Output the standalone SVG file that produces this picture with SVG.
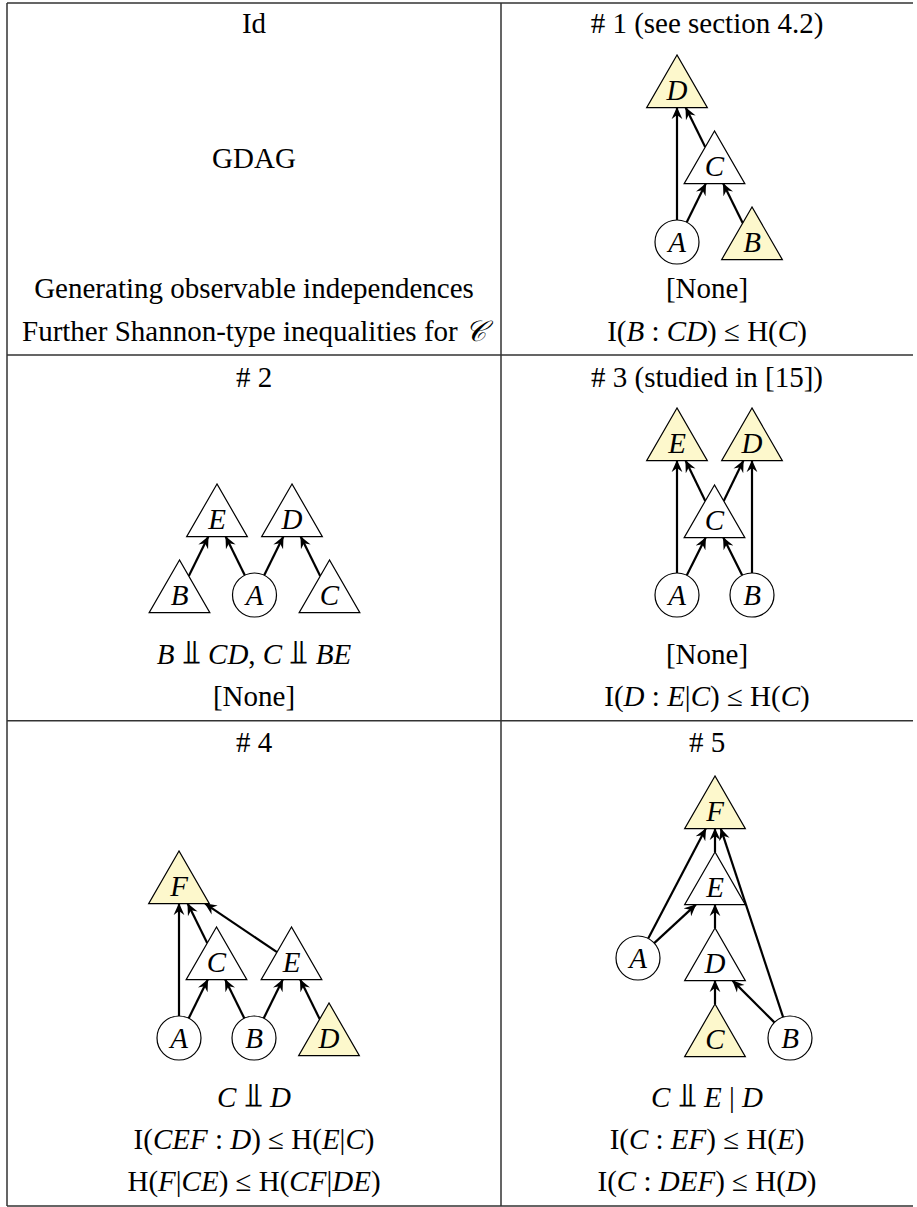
<svg xmlns="http://www.w3.org/2000/svg" width="917" height="1207" viewBox="0 0 917 1207" font-family="'Liberation Serif','Times New Roman',serif">
<defs>
<marker id="ah" viewBox="0 0 12 12" refX="11.5" refY="6" markerWidth="12" markerHeight="12" markerUnits="userSpaceOnUse" orient="auto"><path d="M0,0.6 L12,6 L0,11.4 L4,6 Z" fill="#000"/></marker>
</defs>
<style>
text{font-family:"Liberation Serif","Times New Roman",serif;font-size:29px;fill:#000;text-anchor:middle}
.i{font-style:italic}
.tri{stroke:#000;stroke-width:1.2;fill:#fff}
.y{fill:#fdf8cc}
.cir{stroke:#000;stroke-width:1.2;fill:#fff}
.e{stroke:#000;stroke-width:2.2;fill:none;marker-end:url(#ah)}
.rule{stroke:#333;stroke-width:1.5;fill:none}
.sym{font-family:"DejaVu Serif","DejaVu Sans",serif;font-size:34px;font-style:normal}
</style>
<rect width="917" height="1207" fill="#fff"/>
<g id="table">
<path class="rule" d="M7,3 H913 M7,3 V1206 M501,3 V1206 M7,355 H913 M7,720.7 H913 M7,1206 H913"/>
</g>
<g id="labels">
<text x="254" y="33">Id</text>
<text x="707" y="33"># 1 (see section 4.2)</text>
<text x="254" y="168">GDAG</text>
<text x="254" y="298">Generating observable independences</text>
<text x="707" y="298">[None]</text>
<text x="254" y="341">Further Shannon-type inequalities for <tspan class="i">𝒞</tspan></text>
<text x="707" y="341">I(<tspan class="i">B</tspan> : <tspan class="i">CD</tspan>) ≤ H(<tspan class="i">C</tspan>)</text>
<text x="254" y="387"># 2</text>
<text x="707" y="387"># 3 (studied in [15])</text>
<text x="254" y="664"><tspan class="i">B</tspan> <tspan class="sym">⫫</tspan> <tspan class="i">CD</tspan>, <tspan class="i">C</tspan> <tspan class="sym">⫫</tspan> <tspan class="i">BE</tspan></text>
<text x="254" y="706">[None]</text>
<text x="707" y="664">[None]</text>
<text x="707" y="706">I(<tspan class="i">D</tspan> : <tspan class="i">E</tspan>|<tspan class="i">C</tspan>) ≤ H(<tspan class="i">C</tspan>)</text>
<text x="254" y="752"># 4</text>
<text x="707" y="752"># 5</text>
<text x="254" y="1107"><tspan class="i">C</tspan> <tspan class="sym">⫫</tspan> <tspan class="i">D</tspan></text>
<text x="254" y="1149">I(<tspan class="i">CEF</tspan> : <tspan class="i">D</tspan>) ≤ H(<tspan class="i">E</tspan>|<tspan class="i">C</tspan>)</text>
<text x="254" y="1191">H(<tspan class="i">F</tspan>|<tspan class="i">CE</tspan>) ≤ H(<tspan class="i">CF</tspan>|<tspan class="i">DE</tspan>)</text>
<text x="707" y="1107"><tspan class="i">C</tspan> <tspan class="sym">⫫</tspan> <tspan class="i">E</tspan> | <tspan class="i">D</tspan></text>
<text x="707" y="1149">I(<tspan class="i">C</tspan> : <tspan class="i">EF</tspan>) ≤ H(<tspan class="i">E</tspan>)</text>
<text x="707" y="1191">I(<tspan class="i">C</tspan> : <tspan class="i">DEF</tspan>) ≤ H(<tspan class="i">D</tspan>)</text>
</g>
<g id="connectors">
<path class="e" d="M677,220 L677,107.6"/>
<path class="e" d="M686.7,222.3 L705.8,183.6"/>
<path class="e" d="M742.7,223.1 L723.2,183.6"/>
<path class="e" d="M705.2,147.1 L685.7,107.6"/>
<path class="e" d="M188.8,576.1 L208.3,536.6"/>
<path class="e" d="M244.8,575.3 L225.7,536.6"/>
<path class="e" d="M264.2,575.3 L283.3,536.6"/>
<path class="e" d="M320.2,576.1 L300.7,536.6"/>
<path class="e" d="M677,573 L677,460.6"/>
<path class="e" d="M752,573 L752,460.6"/>
<path class="e" d="M686.8,575.3 L705.7,537.6"/>
<path class="e" d="M742.2,575.3 L723.3,537.6"/>
<path class="e" d="M705.3,501 L685.6,460.6"/>
<path class="e" d="M723.7,501 L743.4,460.6"/>
<path class="e" d="M179,1016 L179,903.6"/>
<path class="e" d="M188.7,1018.3 L207.8,979.6"/>
<path class="e" d="M244.3,1018.3 L225.2,979.6"/>
<path class="e" d="M263.7,1018.3 L282.8,979.6"/>
<path class="e" d="M319.7,1019.1 L300.2,979.6"/>
<path class="e" d="M207.2,943.1 L187.7,903.6"/>
<path class="e" d="M277,952.2 L205.1,903.6"/>
<path class="e" d="M715,852 L715,828.6"/>
<path class="e" d="M715,928 L715,904.6"/>
<path class="e" d="M715,1004 L715,980.6"/>
<path class="e" d="M648.2,938.5 L705.8,828.6"/>
<path class="e" d="M654.2,943.1 L695.9,904.6"/>
<path class="e" d="M774.4,1022.4 L732.6,980.6"/>
<path class="e" d="M783.1,1017.1 L720.8,828.6"/>
</g>
<g id="g1-D"><polygon class="tri y" points="677,55 646.65,107.6 707.35,107.6"/><text class="i" x="677" y="100">D</text></g>
<g id="g1-C"><polygon class="tri" points="714.5,131 684.15,183.6 744.85,183.6"/><text class="i" x="714.5" y="176">C</text></g>
<g id="g1-A"><circle class="cir" cx="677" cy="242" r="22"/><text class="i" x="677" y="252">A</text></g>
<g id="g1-B"><polygon class="tri y" points="752,207 721.65,259.6 782.35,259.6"/><text class="i" x="752" y="252">B</text></g>
<g id="g2-E"><polygon class="tri" points="217,484 186.65,536.6 247.35,536.6"/><text class="i" x="217" y="529">E</text></g>
<g id="g2-D"><polygon class="tri" points="292,484 261.65,536.6 322.35,536.6"/><text class="i" x="292" y="529">D</text></g>
<g id="g2-B"><polygon class="tri" points="179.5,560 149.15,612.6 209.85,612.6"/><text class="i" x="179.5" y="605">B</text></g>
<g id="g2-A"><circle class="cir" cx="254.5" cy="595" r="22"/><text class="i" x="254.5" y="605">A</text></g>
<g id="g2-C"><polygon class="tri" points="329.5,560 299.15,612.6 359.85,612.6"/><text class="i" x="329.5" y="605">C</text></g>
<g id="g3-E"><polygon class="tri y" points="677,408 646.65,460.6 707.35,460.6"/><text class="i" x="677" y="453">E</text></g>
<g id="g3-D"><polygon class="tri y" points="752,408 721.65,460.6 782.35,460.6"/><text class="i" x="752" y="453">D</text></g>
<g id="g3-C"><polygon class="tri" points="714.5,485 684.15,537.6 744.85,537.6"/><text class="i" x="714.5" y="530">C</text></g>
<g id="g3-A"><circle class="cir" cx="677" cy="595" r="22"/><text class="i" x="677" y="605">A</text></g>
<g id="g3-B"><circle class="cir" cx="752" cy="595" r="22"/><text class="i" x="752" y="605">B</text></g>
<g id="g4-F"><polygon class="tri y" points="179,851 148.65,903.6 209.35,903.6"/><text class="i" x="179" y="896">F</text></g>
<g id="g4-C"><polygon class="tri" points="216.5,927 186.15,979.6 246.85,979.6"/><text class="i" x="216.5" y="972">C</text></g>
<g id="g4-E"><polygon class="tri" points="291.5,927 261.15,979.6 321.85,979.6"/><text class="i" x="291.5" y="972">E</text></g>
<g id="g4-A"><circle class="cir" cx="179" cy="1038" r="22"/><text class="i" x="179" y="1048">A</text></g>
<g id="g4-B"><circle class="cir" cx="254" cy="1038" r="22"/><text class="i" x="254" y="1048">B</text></g>
<g id="g4-D"><polygon class="tri y" points="329,1003 298.65,1055.6 359.35,1055.6"/><text class="i" x="329" y="1048">D</text></g>
<g id="g5-F"><polygon class="tri y" points="715,776 684.65,828.6 745.35,828.6"/><text class="i" x="715" y="821">F</text></g>
<g id="g5-E"><polygon class="tri" points="715,852 684.65,904.6 745.35,904.6"/><text class="i" x="715" y="897">E</text></g>
<g id="g5-D"><polygon class="tri" points="715,928 684.65,980.6 745.35,980.6"/><text class="i" x="715" y="973">D</text></g>
<g id="g5-C"><polygon class="tri y" points="715,1004 684.65,1056.6 745.35,1056.6"/><text class="i" x="715" y="1049">C</text></g>
<g id="g5-A"><circle class="cir" cx="638" cy="958" r="22"/><text class="i" x="638" y="968">A</text></g>
<g id="g5-B"><circle class="cir" cx="790" cy="1038" r="22"/><text class="i" x="790" y="1048">B</text></g>
</svg>
